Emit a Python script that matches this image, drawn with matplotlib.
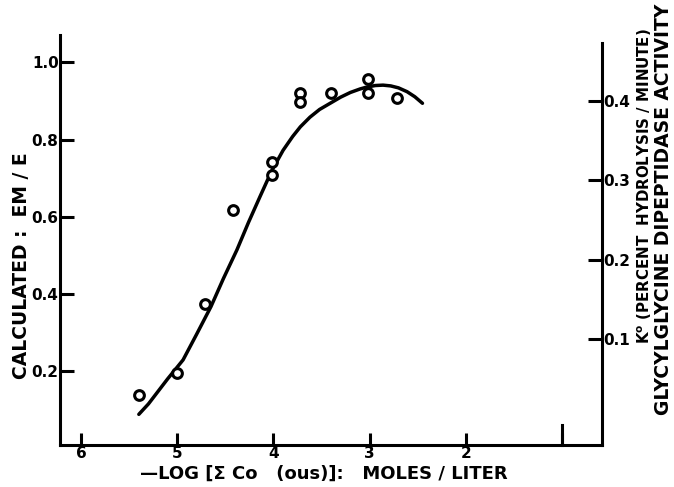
import matplotlib
matplotlib.use("Agg")
import matplotlib.pyplot as plt

# measured points (open circles)
conc = [5.40, 5.00, 4.71, 4.42, 4.02, 4.02, 3.72, 3.72, 3.40, 3.02, 3.02, 2.71]
em_e = [0.138, 0.196, 0.373, 0.617, 0.743, 0.708, 0.920, 0.898, 0.920, 0.957, 0.920, 0.907]

# hand drawn curve
curve_x = [5.40, 5.30, 5.10, 4.94, 4.80, 4.65, 4.52, 4.38, 4.26, 4.14, 4.02, 3.90, 3.80,
           3.72, 3.62, 3.52, 3.41, 3.30, 3.20, 3.10, 3.03, 2.94, 2.86, 2.78, 2.70, 2.61, 2.53, 2.45]
curve_y = [0.088, 0.115, 0.180, 0.229, 0.295, 0.367, 0.440, 0.514, 0.585, 0.652, 0.718, 0.772, 0.808,
           0.833, 0.858, 0.878, 0.894, 0.910, 0.922, 0.931, 0.936, 0.940, 0.941, 0.939, 0.934, 0.924, 0.911, 0.894]

xticks = [6, 5, 4, 3, 2, 1]
left_ticks = [0.2, 0.4, 0.6, 0.8, 1.0]
right_ticks = [0.1, 0.2, 0.3, 0.4]

lw = 2.2
fnt = dict(fontweight='bold', family='DejaVu Sans')

fig = plt.figure(figsize=(6.74, 4.87), dpi=100)
ax = fig.add_axes([0.089, 0.0862, 0.804, 0.842])

ax.plot(curve_x, curve_y, color='black', lw=2.5, solid_capstyle='round', solid_joinstyle='round')
ax.plot(conc, em_e, 'o', mfc='white', mec='black', ms=7, mew=2.2)

ax.set_xlim(6.22, 0.584)
ax.set_ylim(0.0085, 1.071)

for s in ['left', 'bottom']:
    ax.spines[s].set_linewidth(lw)
ax.spines['top'].set_visible(False)
ax.spines['right'].set_visible(False)

ax.set_xticks(xticks)
ax.set_xticklabels(['6', '5', '4', '3', '2', ''], fontsize=11, **fnt)
ax.set_yticks(left_ticks)
ax.set_yticklabels(['0.2', '0.4', '0.6', '0.8', '1.0'], fontsize=11, **fnt)
ax.tick_params(axis='x', direction='in', length=9, width=lw, pad=1)
ax.tick_params(axis='y', direction='in', length=10, width=lw, pad=1)
# the "1" on the x axis is drawn as a long tick in the original
ax.plot([1, 1], [0.0085, 0.06], color='black', lw=lw, clip_on=False)

ax2 = ax.twinx()
ax2.set_ylim(-0.033, 0.4827)
ax2.spines['right'].set_linewidth(lw)
ax2.spines['right'].set_bounds(-0.033, 0.472)
for s in ['top', 'left', 'bottom']:
    ax2.spines[s].set_visible(False)
ax2.set_yticks(right_ticks)
ax2.set_yticklabels(['0.1', '0.2', '0.3', '0.4'], fontsize=11, **fnt)
ax2.tick_params(axis='y', direction='in', length=10, width=lw, pad=1)

fig.text(0.032, 0.454, 'CALCULATED :  EM / E', rotation=90, ha='center', va='center',
         fontsize=13.5, **fnt)
fig.text(0.956, 0.617, 'K$^\\mathbf{o}$ (PERCENT  HYDROLYSIS / MINUTE)', rotation=90,
         ha='center', va='center', fontsize=10.8, **fnt)
fig.text(0.984, 0.57, 'GLYCYLGLYCINE DIPEPTIDASE ACTIVITY', rotation=90,
         ha='center', va='center', fontsize=13.5, **fnt)
fig.text(0.48, 0.027, '\u2014LOG [\u03a3 Co   (ous)]:   MOLES / LITER', ha='center',
         va='center', fontsize=13, **fnt)

fig.savefig('out.png', dpi=100)
